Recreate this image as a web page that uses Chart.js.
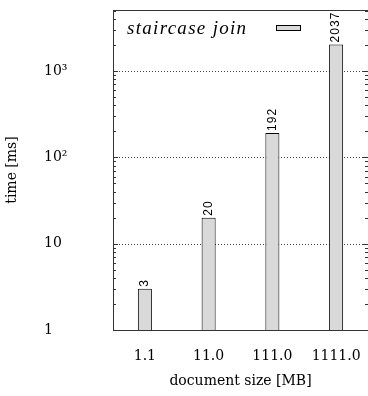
<!DOCTYPE html>
<html>
<head>
<meta charset="utf-8">
<script src="https://cdn.jsdelivr.net/npm/chart.js@4/dist/chart.umd.min.js"></script>
<style>
html, body { margin: 0; padding: 0; background: #fff; }
</style>
</head>
<body>
<canvas id="chart" width="368" height="396"></canvas>
<script>
// document sizes (x categories) and staircase join timings
const sizes = ['1.1', '11.0', '111.0', '1111.0'];
const times = [3, 20, 192, 2037];
const seriesName = 'staircase join';
// y axis decades and their labels
const yTicks = [1, 10, 100, 1000];
const yTickLabels = ['1', '10', '10²', '10³'];
const yMin = 1;
const yMax = 5100;

const SERIF = '"DejaVu Serif", serif';
const AXIS = '#333';

// frame, dotted decade lines, inward minor ticks, value labels, legend
const decor = {
    id: 'decor',
    beforeDatasetsDraw(chart) {
        const { ctx, chartArea: a } = chart;
        const y = chart.scales.y;
        ctx.save();
        ctx.strokeStyle = '#444';
        ctx.lineWidth = 1;
        ctx.setLineDash([1, 2]);
        yTicks.forEach(v => {
            if (v === yMin) return;
            const py = Math.round(y.getPixelForValue(v)) + 0.5;
            ctx.beginPath();
            ctx.moveTo(a.left, py);
            ctx.lineTo(a.right, py);
            ctx.stroke();
        });
        ctx.restore();
    },
    afterDatasetsDraw(chart) {
        const { ctx, chartArea: a } = chart;
        const y = chart.scales.y;
        ctx.save();
        ctx.strokeStyle = AXIS;
        ctx.lineWidth = 1;
        // top frame line
        ctx.beginPath();
        ctx.moveTo(a.left, a.top + 0.5);
        ctx.lineTo(a.right, a.top + 0.5);
        ctx.stroke();
        // log ticks on both sides, pointing inward
        yTicks.forEach(d => {
            for (let m = 1; m <= 9; m++) {
                const v = d * m;
                if (v <= yMin || v > yMax) continue;
                const py = Math.round(y.getPixelForValue(v)) + 0.5;
                const len = m === 1 ? 5 : 3;
                ctx.beginPath();
                ctx.moveTo(a.left, py);
                ctx.lineTo(a.left + len, py);
                ctx.moveTo(a.right, py);
                ctx.lineTo(a.right - len, py);
                ctx.stroke();
            }
        });
        // rotated values above the bars
        const meta = chart.getDatasetMeta(0);
        ctx.fillStyle = '#000';
        ctx.font = '12px "Liberation Sans", sans-serif';
        ctx.textAlign = 'left';
        ctx.textBaseline = 'middle';
        meta.data.forEach((bar, i) => {
            ctx.save();
            ctx.translate(bar.x, bar.y - 2);
            ctx.rotate(-Math.PI / 2);
            ctx.fillText(String(times[i]).split('').join('\u200A'), 0, 0);
            ctx.restore();
        });
        // legend inside the plot, swatch after the text
        const ds = chart.data.datasets[0];
        ctx.font = 'italic 19px "Liberation Serif", serif';
        ctx.letterSpacing = '1.3px';
        ctx.fillText(ds.label, a.left + 14, a.top + 19);
        ctx.letterSpacing = '0px';
        ctx.fillStyle = ds.backgroundColor;
        ctx.fillRect(a.left + 163.5, a.top + 15.5, 24, 5);
        ctx.strokeStyle = '#000';
        ctx.strokeRect(a.left + 163.5, a.top + 15.5, 24, 5);
        ctx.restore();
    }
};

new Chart(document.getElementById('chart'), {
    type: 'bar',
    data: {
        labels: sizes,
        datasets: [{
            label: seriesName,
            data: times,
            backgroundColor: '#d9d9d9',
            borderColor: '#000',
            borderWidth: 1,
            categoryPercentage: 1,
            barPercentage: 0.22
        }]
    },
    options: {
        responsive: false,
        animation: false,
        devicePixelRatio: 1,
        layout: { padding: { top: 10, right: 0, left: 0, bottom: 0 } },
        plugins: {
            legend: { display: false },
            tooltip: { enabled: false }
        },
        scales: {
            x: {
                type: 'category',
                offset: true,
                grid: { display: false },
                border: { display: true, color: AXIS, width: 1 },
                ticks: { color: '#000', font: { family: SERIF, size: 14 }, padding: 10, maxRotation: 0 },
                title: { display: true, text: 'document size [MB]', color: '#000', font: { family: SERIF, size: 14 }, padding: { top: 4, bottom: 6 } },
                afterFit: s => { s.height = 66; s.paddingLeft = 0; s.paddingRight = 0; }
            },
            y: {
                type: 'logarithmic',
                position: 'left',
                weight: 0,
                min: yMin,
                max: yMax,
                grid: { display: false },
                border: { display: true, color: AXIS, width: 1 },
                afterBuildTicks: s => { s.ticks = yTicks.map(v => ({ value: v })); },
                ticks: {
                    color: '#000',
                    crossAlign: 'far',
                    font: { family: SERIF, size: 14 },
                    callback: v => yTickLabels[yTicks.indexOf(v)]
                },
                afterFit: s => { s.width = 69; s.paddingTop = 0; s.paddingBottom = 0; }
            },
            yTitle: {
                type: 'linear',
                axis: 'y',
                position: 'left',
                weight: 1,
                grid: { display: false },
                border: { display: false },
                ticks: { display: false },
                title: { display: true, text: 'time [ms]', color: '#000', font: { family: SERIF, size: 14 } },
                afterFit: s => { s.width = 44; }
            }
        }
    },
    plugins: [decor]
});
</script>
</body>
</html>
